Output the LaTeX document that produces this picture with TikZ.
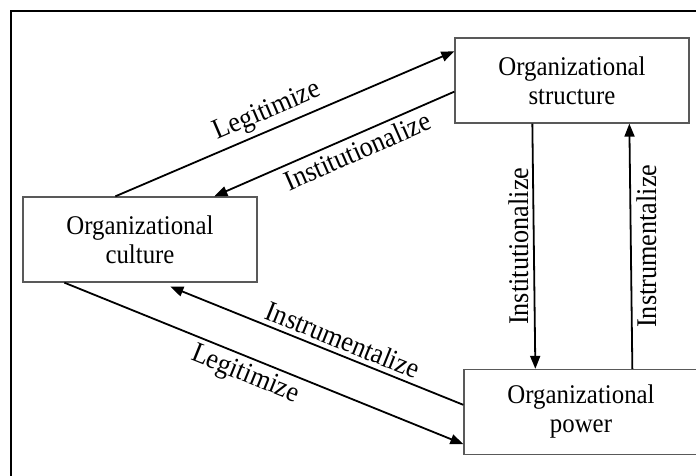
\documentclass[tikz,border=0pt]{standalone}
\usepackage{fontspec}
\setmainfont{Liberation Serif}[FakeStretch=0.92]
\usetikzlibrary{arrows.meta}

\begin{document}
\begin{tikzpicture}[
  x=1pt, y=-1pt,
  >={Triangle[length=13pt,width=10pt]},
  box/.style={draw=black!65,line width=1.3pt,minimum width=234pt,minimum height=85pt,
    align=center,inner sep=0pt,font=\fontsize{27}{29}\selectfont},
  link/.style={->,line width=1.8pt},
  lbl/.style={font=\fontsize{28.5}{30}\selectfont,inner sep=4.5pt}
]
  \clip (0,0) rectangle (696,476);
  \draw[line width=2.4pt] (11,480) -- (11,11) -- (700,11);
  \node[box] (structure) at (572,80.5) {Organizational\\structure};
  \node[box] (culture) at (140,239.5) {Organizational\\culture};
  \node[box] (power) at (581,412) {Organizational\\power};
  % culture <-> structure
  \draw[link] ([xshift=93pt]culture.north west) -- ([yshift=-14pt]structure.north west)
    node[lbl,sloped,above,pos=0.47] {Legitimize};
  \draw[link] ([yshift=32pt]structure.south west) -- ([xshift=192pt]culture.north west)
    node[lbl,sloped,below,pos=0.43] {Institutionalize};
  % structure <-> power
  \draw[link] ([xshift=78pt]structure.south west) -- ([xshift=72pt]power.north west)
    node[lbl,rotate=90,anchor=south,midway] {Institutionalize};
  \draw[link] ([xshift=169pt]power.north west) -- ([xshift=175pt]structure.south west)
    node[lbl,rotate=90,anchor=north,midway] {Instrumentalize};
  % power <-> culture
  \draw[link] ([yshift=-36pt]power.north west) -- ([xshift=148pt,yshift=-4pt]culture.south west)
    node[lbl,sloped,above,pos=0.43] {Instrumentalize};
  \draw[link] ([xshift=42pt]culture.south west) -- ([yshift=11pt]power.south west)
    node[lbl,sloped,below,pos=0.47] {Legitimize};
\end{tikzpicture}
\end{document}
